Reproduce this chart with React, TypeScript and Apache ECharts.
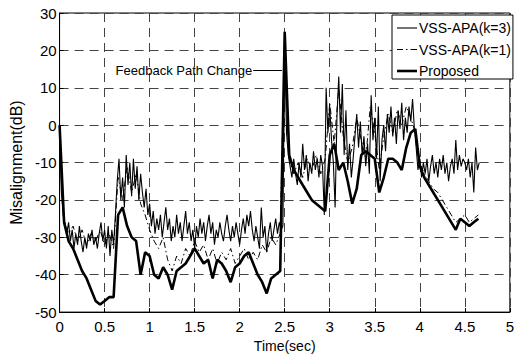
import { useEffect, useRef } from "react";
import * as echarts from "echarts";

// Sample spacing (seconds) of the recorded misalignment traces
const K3_STEP = 0.02;
const COARSE_STEP = 0.05;

const seriesNames = ["VSS-APA(k=3)", "VSS-APA(k=1)", "Proposed"];

// VSS-APA with k=3, sampled every 0.02 s
const vssK3Db = [
  -2, -18, -24, -27, -29, -26, -31, -28, -33, -29,
  -32, -27, -31, -34, -30, -33, -29, -31, -28, -32,
  -30, -33, -29, -26, -31, -28, -33, -27, -35, -28,
  -32, -24, -15, -9, -20, -14, -22, -8, -16, -10,
  -19, -9, -17, -11, -20, -13, -18, -22, -17, -24,
  -21, -27, -23, -29, -25, -28, -24, -30, -26, -22,
  -28, -25, -31, -27, -30, -24, -29, -26, -31, -27,
  -23, -29, -26, -31, -28, -33, -27, -30, -25, -29,
  -26, -31, -27, -24, -29, -26, -32, -28, -30, -26,
  -29, -31, -27, -24, -28, -31, -27, -30, -26, -29,
  -32, -28, -25, -29, -24, -27, -23, -28, -31, -27,
  -30, -33, -22, -30, -27, -34, -29, -26, -31, -28,
  -25, -29, -26, -28, -27, 22, -2, -8, -11, -14,
  -9, -13, -16, -10, -14, -5, -12, -8, -15, -10,
  -13, -7, -12, -9, -14, -8, -11, -24, 10, -2,
  5, -4, -10, -22, 2, 13, -2, 11, -8, 4,
  -12, -5, -14, -9, -3, 3, -6, 1, -8, -3,
  -11, -5, -13, 8, -4, 2, -9, 5, -15, -4,
  0, -7, 3, -2, 5, -3, 2, -5, 4, -1,
  6, -4, 2, -2, 5, 1, 7, -1, -6, -12,
  -9, -14, -10, -13, -9, -15, -11, -8, -13, -10,
  -14, -9, -12, -8, -13, -10, -15, -11, -9, -13,
  -4, -12, -8, -11, -9, -10, -12, -9, -14, -10,
  -18, -6, -12, -10,
];

// VSS-APA with k=1, sampled every 0.05 s
const vssK1Db = [
  -2, -25, -29, -27, -31, -28, -32, -29, -31, -28,
  -32, -29, -33, -14, -20, -11, -18, -13, -21, -24,
  -28, -31, -33, -30, -36, -39, -35, -37, -33, -35,
  -31, -34, -32, -36, -33, -37, -34, -36, -33, -37,
  -35, -33, -36, -34, -36, -32, -34, -30, -32, -29,
  24, -9, -13, -10, -14, -9, -12, -8, -13, -9,
  6, -5, 10, -3, -10, -6, 2, -4, -9, 5,
  -2, -12, -3, 3, -2, 4, 0, 5, 2, -2,
  -10, -13, -15, -17, -18, -20, -22, -24, -26, -25,
  -24, -26, -25, -24,
];

// Proposed algorithm, sampled every 0.05 s
const proposedDb = [
  0, -26, -31, -33, -36, -39, -41, -44, -47, -48,
  -47, -46, -46, -24, -22, -27, -30, -31, -40, -34,
  -35, -40, -41, -38, -40, -44, -39, -38, -37, -35,
  -33, -35, -37, -36, -41, -36, -37, -39, -42, -38,
  -37, -35, -34, -37, -40, -42, -45, -41, -40, -39,
  25, -8, -12, -14, -16, -18, -20, -21, -22, -23,
  -8, -5, -12, -10, -15, -21, -17, -8, -7, -8,
  -9, -18, -14, -9, -9, -10, -12, -6, -2, -1,
  -11, -14, -16, -18, -20, -22, -24, -26, -28, -25,
  -26, -27, -26, -25,
];

// Feedback path change event: time (s) and annotation level (dB)
const eventTime = 2.5;
const eventArrowStart = 2.15;
const eventArrowEnd = 2.47;
const eventLevel = 14.7;
const eventLabel = "Feedback Path Change";

// Legend keys drawn as short line samples (solid, dash-dot, thick)
const legendIcons = [
  "path://M0,0h20v1.1h-20z",
  "path://M0,0h6v1h-6zM9,0h1.5v1h-1.5zM13.5,0h6.5v1h-6.5z",
  "path://M0,0h20v2.6h-20z",
];

const FONT = "'Liberation Sans', Arial, Helvetica, sans-serif";

const toPairs = (vals: number[], step: number) =>
  vals.map((v, i) => [+(i * step).toFixed(3), v]);

export default function App() {
  const ref = useRef<HTMLDivElement>(null);

  useEffect(() => {
    if (!ref.current) return;
    const chart = echarts.init(ref.current, undefined, { renderer: "svg" });
    const dashGrid = { color: "#444", width: 1, type: [9, 6] as number[] };

    chart.setOption({
      animation: false,
      backgroundColor: "#fff",
      textStyle: { fontFamily: FONT, color: "#000" },
      grid: {
        left: 47,
        top: 13,
        width: 467,
        height: 308,
        show: true,
        borderColor: "#000",
        borderWidth: 1,
        backgroundColor: "transparent",
      },
      legend: {
        data: seriesNames.map((name, i) => ({ name, icon: legendIcons[i] })),
        orient: "vertical",
        left: 392,
        top: 15,
        padding: [6, 2, 1, 5],
        itemGap: 7.5,
        itemWidth: 20,
        itemHeight: 14,
        symbolKeepAspect: true,
        backgroundColor: "#fff",
        borderColor: "#000",
        borderWidth: 1,
        borderRadius: 0,
        itemStyle: { color: "#000" },
        textStyle: { fontFamily: FONT, fontSize: 14, color: "#000", padding: [0, 0, 0, -3] },
      },
      xAxis: {
        type: "value",
        min: 0,
        max: 5,
        interval: 0.5,
        name: "Time(sec)",
        nameLocation: "middle",
        nameGap: 25,
        nameTextStyle: { fontFamily: FONT, fontSize: 14, color: "#000" },
        axisLine: { onZero: false, lineStyle: { color: "#000", width: 1 } },
        axisTick: { inside: true, length: 4, lineStyle: { color: "#000" } },
        axisLabel: { fontFamily: FONT, fontSize: 15, color: "#000", margin: 7 },
        splitLine: { show: true, lineStyle: dashGrid },
      },
      yAxis: {
        type: "value",
        min: -50,
        max: 30,
        interval: 10,
        name: "Misalignment(dB)",
        nameLocation: "middle",
        nameGap: 22,
        nameTextStyle: { fontFamily: FONT, fontSize: 16, color: "#000" },
        axisLine: { show: true, onZero: false, lineStyle: { color: "#000", width: 1 } },
        axisTick: { show: true, inside: true, length: 4, lineStyle: { color: "#000" } },
        axisLabel: { fontFamily: FONT, fontSize: 15, color: "#000", margin: 3 },
        splitLine: { show: true, lineStyle: dashGrid },
      },
      series: [
        {
          name: seriesNames[0],
          type: "line",
          data: toPairs(vssK3Db, K3_STEP),
          symbol: "none",
          lineStyle: { color: "#000", width: 1.1 },
          itemStyle: { color: "#000" },
          z: 3,
        },
        {
          name: seriesNames[1],
          type: "line",
          data: toPairs(vssK1Db, COARSE_STEP),
          symbol: "none",
          lineStyle: { color: "#000", width: 1, type: [6, 3, 1.5, 3] },
          itemStyle: { color: "#000" },
          z: 3,
        },
        {
          name: seriesNames[2],
          type: "line",
          data: toPairs(proposedDb, COARSE_STEP),
          symbol: "none",
          lineStyle: { color: "#000", width: 2.6 },
          itemStyle: { color: "#000" },
          z: 4,
          markLine: {
            silent: true,
            animation: false,
            symbol: ["none", "arrow"],
            symbolSize: [0, 8],
            lineStyle: { color: "#000", width: 1, type: "solid" },
            label: {
              show: true,
              position: "start",
              distance: 1,
              formatter: eventLabel,
              fontFamily: FONT,
              fontSize: 13,
              color: "#000",
            },
            data: [
              [
                { coord: [eventArrowStart, eventLevel] },
                { coord: [Math.min(eventArrowEnd, eventTime), eventLevel] },
              ],
            ],
          },
        },
      ],
    });

    return () => chart.dispose();
  }, []);

  return (
    <div
      ref={ref}
      style={{ position: "absolute", left: 0, top: 0, width: 517, height: 358, background: "#fff" }}
    />
  );
}
